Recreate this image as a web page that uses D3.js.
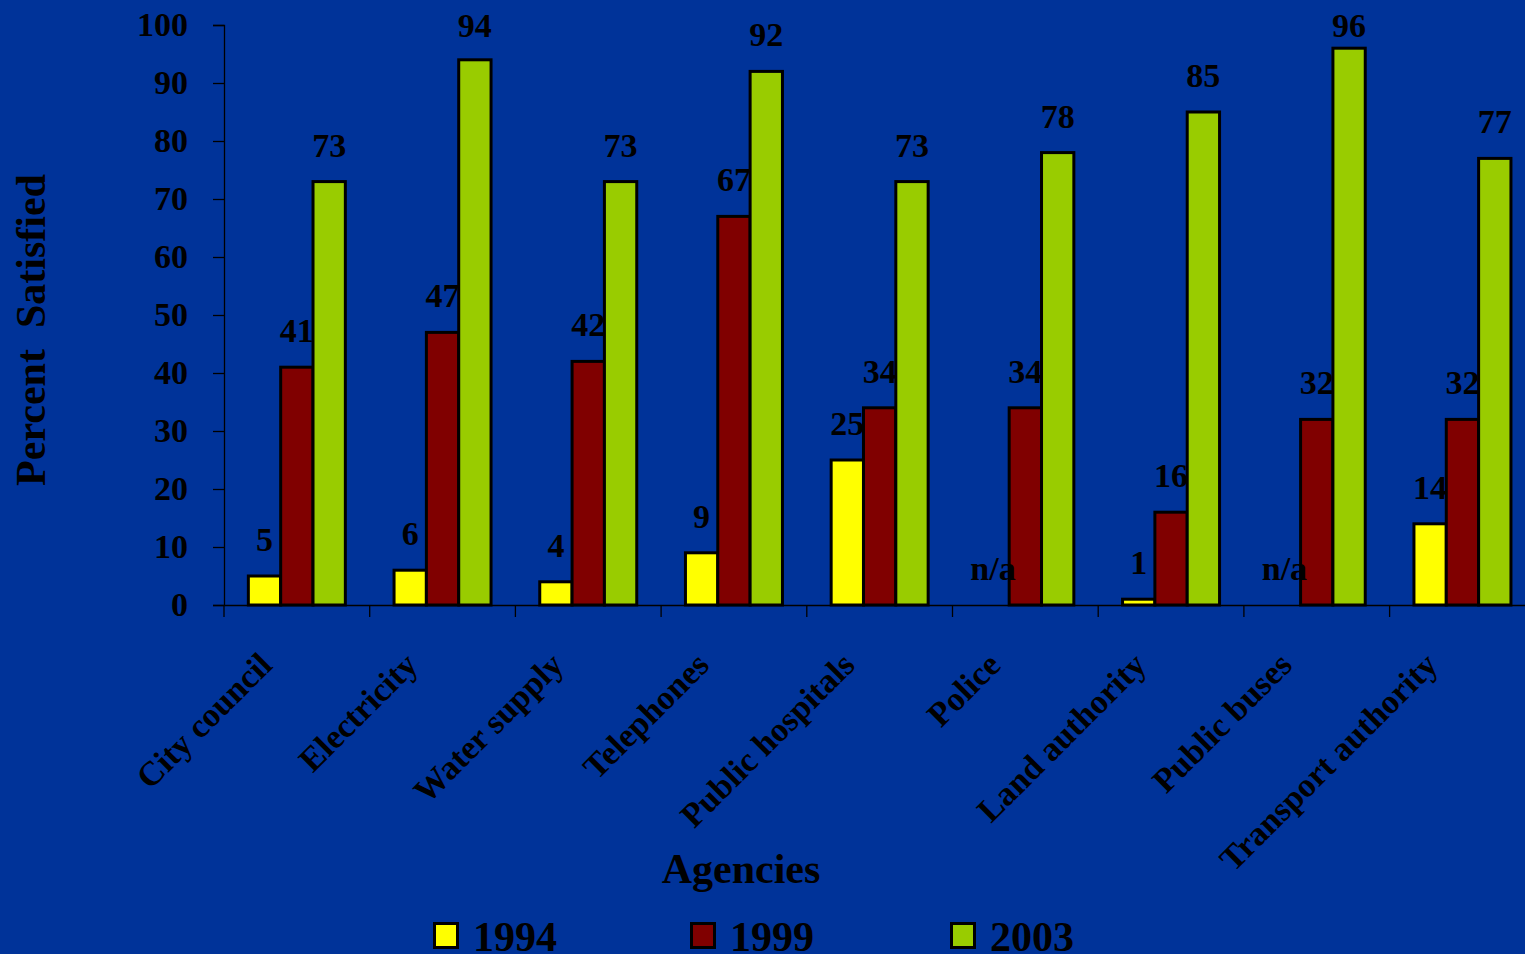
<!DOCTYPE html>
<html>
<head>
<meta charset="utf-8">
<script src="https://cdn.jsdelivr.net/npm/d3@7"></script>
<style>
  html, body { margin: 0; padding: 0; background: #003399; overflow: hidden; }
  svg { display: block; font-family: "Liberation Serif", "Times New Roman", serif; font-weight: bold; }
</style>
</head>
<body>
<div id="chart"></div>
<script>
const agencies = ['City council', 'Electricity', 'Water supply', 'Telephones', 'Public hospitals',
  'Police', 'Land authority', 'Public buses', 'Transport authority'];
const years = ['1994', '1999', '2003'];
const sat1994 = [5, 6, 4, 9, 25, null, 1, null, 14];
const sat1999 = [41, 47, 42, 67, 34, 34, 16, 32, 32];
const sat2003 = [73, 94, 73, 92, 73, 78, 85, 96, 77];
const yTicks = [0, 10, 20, 30, 40, 50, 60, 70, 80, 90, 100];

const colors = { '1994': '#ffff00', '1999': '#800000', '2003': '#99cc00' };

const width = 1525;
const height = 954;
const margin = { top: 25, left: 224, bottom: 349 };
const bandW = 145.7;

const series = { '1994': sat1994, '1999': sat1999, '2003': sat2003 };
const rows = agencies.map((a, i) => ({
  agency: a,
  values: years.map(y => ({ year: y, value: series[y][i] }))
}));

const svg = d3.select('#chart')
  .append('svg')
  .attr('width', width)
  .attr('height', height);

svg.append('rect').attr('width', width).attr('height', height).attr('fill', '#003399');

const x = d3.scaleBand()
  .domain(agencies)
  .range([margin.left, margin.left + bandW * agencies.length])
  .padding(0);

const x1 = d3.scaleBand()
  .domain(years)
  .range([(bandW - 97) / 2, (bandW + 97) / 2])
  .padding(0);

const y = d3.scaleLinear()
  .domain([0, 100])
  .range([605, margin.top]);

// bars
const groups = svg.append('g')
  .selectAll('g')
  .data(rows)
  .join('g')
    .attr('transform', d => `translate(${x(d.agency)},0)`);

groups.selectAll('rect')
  .data(d => d.values.filter(v => v.value != null))
  .join('rect')
    .attr('x', d => x1(d.year))
    .attr('y', d => y(d.value))
    .attr('width', x1.bandwidth())
    .attr('height', d => y(0) - y(d.value))
    .attr('fill', d => colors[d.year])
    .attr('stroke', '#000')
    .attr('stroke-width', 3);

// value labels, kept inside the top of the chart area
groups.selectAll('text')
  .data(d => d.values)
  .join('text')
    .attr('x', d => x1(d.year) + x1.bandwidth() / 2)
    .attr('y', d => Math.max(y(d.value == null ? 0 : d.value) - 25, 37))
    .attr('text-anchor', 'middle')
    .attr('font-size', 34)
    .attr('fill', '#000')
    .text(d => d.value == null ? 'n/a' : d.value);

// y axis
const yAxis = svg.append('g')
  .attr('transform', `translate(${margin.left},0)`)
  .call(d3.axisLeft(y).tickValues(yTicks).tickSize(11).tickPadding(25));
yAxis.select('.domain').attr('stroke', '#000').attr('stroke-width', 1.3);
yAxis.selectAll('.tick line').attr('stroke', '#000').attr('stroke-width', 1.3);
yAxis.selectAll('.tick text')
  .attr('font-size', 34)
  .attr('font-family', '"Liberation Serif", "Times New Roman", serif')
  .attr('font-weight', 'bold')
  .attr('fill', '#000');

// x axis
const xAxis = svg.append('g')
  .attr('transform', `translate(0,${y(0)})`)
  .call(d3.axisBottom(x).tickSize(0).tickFormat(''));
xAxis.select('.domain').attr('stroke', '#000').attr('stroke-width', 1.3);

xAxis.selectAll('.boundary')
  .data(agencies)
  .join('line')
    .attr('class', 'boundary')
    .attr('x1', d => x(d))
    .attr('x2', d => x(d))
    .attr('y1', 0)
    .attr('y2', 12)
    .attr('stroke', '#000')
    .attr('stroke-width', 1.3);

svg.append('g')
  .selectAll('text')
  .data(agencies)
  .join('text')
    .attr('transform', d => `translate(${x(d) + x.bandwidth() / 2 - 23},667) rotate(-45)`)
    .attr('text-anchor', 'end')
    .attr('font-size', 34)
    .attr('fill', '#000')
    .text(d => d);

// axis titles
svg.append('text')
  .attr('x', 741)
  .attr('y', 883)
  .attr('text-anchor', 'middle')
  .attr('font-size', 42)
  .attr('fill', '#000')
  .text('Agencies');

svg.append('text')
  .attr('transform', 'translate(45,330) rotate(-90)')
  .attr('text-anchor', 'middle')
  .attr('font-size', 42)
  .attr('fill', '#000')
  .attr('xml:space', 'preserve')
  .style('white-space', 'pre')
  .text('Percent  Satisfied');

// legend
const legendX = [433, 690, 950];
const legend = svg.append('g')
  .selectAll('g')
  .data(years)
  .join('g')
    .attr('transform', (d, i) => `translate(${legendX[i]},922)`);

legend.append('rect')
  .attr('x', 1.5)
  .attr('y', 1.5)
  .attr('width', 23)
  .attr('height', 24)
  .attr('fill', d => colors[d])
  .attr('stroke', '#000')
  .attr('stroke-width', 3);

legend.append('text')
  .attr('x', 40)
  .attr('y', 29)
  .attr('font-size', 42)
  .attr('fill', '#000')
  .text(d => d);
</script>
</body>
</html>
